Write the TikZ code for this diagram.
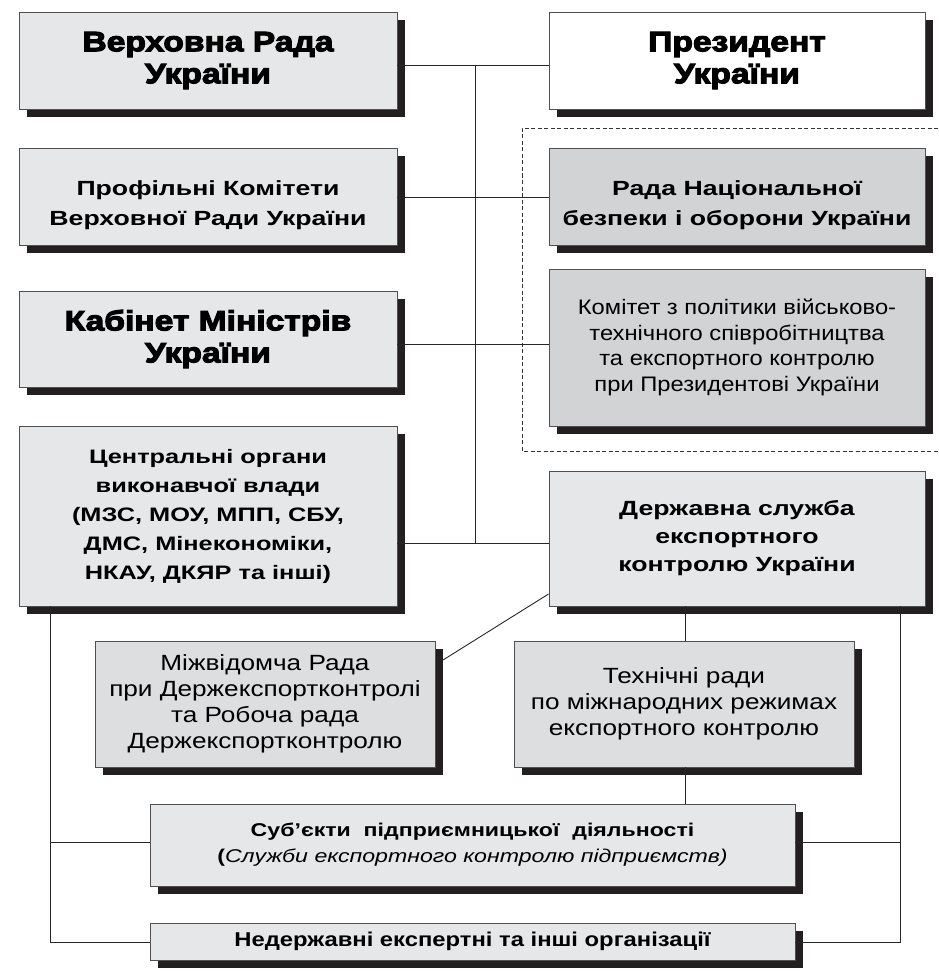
\documentclass[tikz,border=0pt]{standalone}
\usepackage{fontspec}
\setmainfont{Liberation Sans}
\newfontfamily\heavyf{Liberation Sans}[FakeStretch=1.2, BoldFeatures={FakeBold=4}]
\newfontfamily\boldf{Liberation Sans}[FakeStretch=1.3]
\newfontfamily\regf{Liberation Sans}[FakeStretch=1.13]
\newfontfamily\botf{Liberation Sans}[FakeStretch=1.19]
\newfontfamily\botbf{Liberation Sans}[FakeStretch=1.25]
\usetikzlibrary{shadows}
\definecolor{lightbox}{RGB}{230,231,232}
\definecolor{midbox}{RGB}{221,222,223}
\definecolor{darkbox}{RGB}{209,211,212}
\definecolor{shadowc}{RGB}{35,31,32}
\definecolor{edgec}{RGB}{80,80,80}
\tikzset{
  orgbox/.style={draw=edgec, line width=0.9pt, fill=lightbox, align=center, inner sep=0pt,
    drop shadow={shadow xshift=8pt, shadow yshift=-8pt, fill=shadowc, opacity=1}},
  heavytext/.style={font=\heavyf\bfseries\fontsize{28}{32}\selectfont},
  boldtext/.style={font=\boldf\bfseries\fontsize{20.5}{30}\selectfont},
  regtext/.style={font=\regf\fontsize{21}{25.7}\selectfont},
  bottext/.style={font=\botf\fontsize{22}{26}\selectfont},
  link/.style={draw=black!85, line width=0.9pt},
}
\begin{document}
\begin{tikzpicture}[x=1pt,y=-1pt]
\useasboundingbox (0,0) rectangle (938,971);
% dashed frame
\draw[dashed, dash pattern=on 4pt off 2.5pt, line width=0.8pt, black!80] (938,128) -- (522,128) -- (522,451) -- (938,451);

\node[orgbox, heavytext, minimum width=378pt, minimum height=97pt] (VR) at (208,60.5)
  {Верховна Рада\\України};
\node[orgbox, heavytext, fill=white, minimum width=376pt, minimum height=97pt] (Pres) at (737,60.5)
  {Президент\\України};
\node[orgbox, boldtext, minimum width=378pt, minimum height=97pt] (Prof) at (208,196.5)
  {\rule{0pt}{32pt}Профільні Комітети\\Верховної Ради України};
\node[orgbox, boldtext, fill=darkbox, minimum width=376pt, minimum height=97pt] (RNBO) at (737,196.5)
  {\rule{0pt}{32pt}Рада Національної\\безпеки і оборони України};
\node[orgbox, heavytext, minimum width=378pt, minimum height=96pt] (KM) at (208,339)
  {Кабінет Міністрів\\України};
\node[orgbox, regtext, fill=darkbox, minimum width=376pt, minimum height=157pt] (Kom) at (737,347.5)
  {Комітет з політики військово-\\технічного співробітництва\\та експортного контролю\\при Президентові України};
\node[orgbox, font=\boldf\bfseries\fontsize{19.5}{29}\selectfont, minimum width=378pt, minimum height=180pt] (Centr) at (208,516)
  {Центральні органи\\виконавчої влади\\(МЗС, МОУ, МПП, СБУ,\\ДМС, Мінекономіки,\\НКАУ, ДКЯР та інші)};
\node[orgbox, font=\boldf\bfseries\fontsize{20.5}{28}\selectfont, minimum width=376pt, minimum height=135pt] (Derzh) at (737,538.5)
  {Державна служба\\експортного\\контролю України};
\node[orgbox, bottext, fill=midbox, minimum width=340pt, minimum height=126pt] (Mizh) at (265,704)
  {Міжвідомча Рада\\при Держекспортконтролі\\та Робоча рада\\Держекспортконтролю};
\node[orgbox, bottext, fill=midbox, minimum width=340pt, minimum height=126pt] (Tekh) at (684,704)
  {Технічні ради\\по міжнародних режимах\\експортного контролю};
\node[orgbox, font=\botbf\fontsize{18.5}{26}\selectfont, minimum width=645pt, minimum height=82pt] (Sub) at (472.5,845)
  {\textbf{Суб’єкти\ \ підприємницької\ \ діяльності}\\\textbf{(}\textit{Служби експортного контролю підприємств)}};
\node[orgbox, font=\botf\bfseries\fontsize{20}{22}\selectfont, minimum width=645pt, minimum height=37pt] (Ned) at (472.5,941.5)
  {Недержавні експертні та інші організації};

% connectors
\coordinate (spT) at (475,65);
\coordinate (spB) at (475,543);
\draw[link] (VR.east |- spT) -- (Pres.west |- spT);
\draw[link] (spT) -- (spB);
\coordinate (r2) at (475,197);
\draw[link] (Prof.east |- r2) -- (RNBO.west |- r2);
\coordinate (r3) at (475,344);
\draw[link] (KM.east |- r3) -- (Kom.west |- r3);
\draw[link] (Centr.east |- spB) -- (Derzh.west |- spB);

\coordinate (dg1) at (443,660);
\coordinate (dg2) at (549,594);
\draw[link] (dg1) -- (Derzh.west |- dg2);

\coordinate (vx) at (685,0);
\draw[link] (Derzh.south -| vx) -- (Tekh.north -| vx);
\draw[link] (Tekh.south -| vx) -- (Sub.north -| vx);

\coordinate (lx) at (50,942);
\coordinate (ly) at (50,842);
\coordinate (rx) at (900,942);
\coordinate (ry) at (900,842);
\draw[link] (Centr.south -| lx) -- (lx) -- (Ned.west |- lx);
\draw[link] (ly) -- (Sub.west |- ly);
\draw[link] (Derzh.south -| rx) -- (rx) -- (Ned.east |- rx);
\draw[link] (ry) -- (Sub.east |- ry);
\end{tikzpicture}
\end{document}
